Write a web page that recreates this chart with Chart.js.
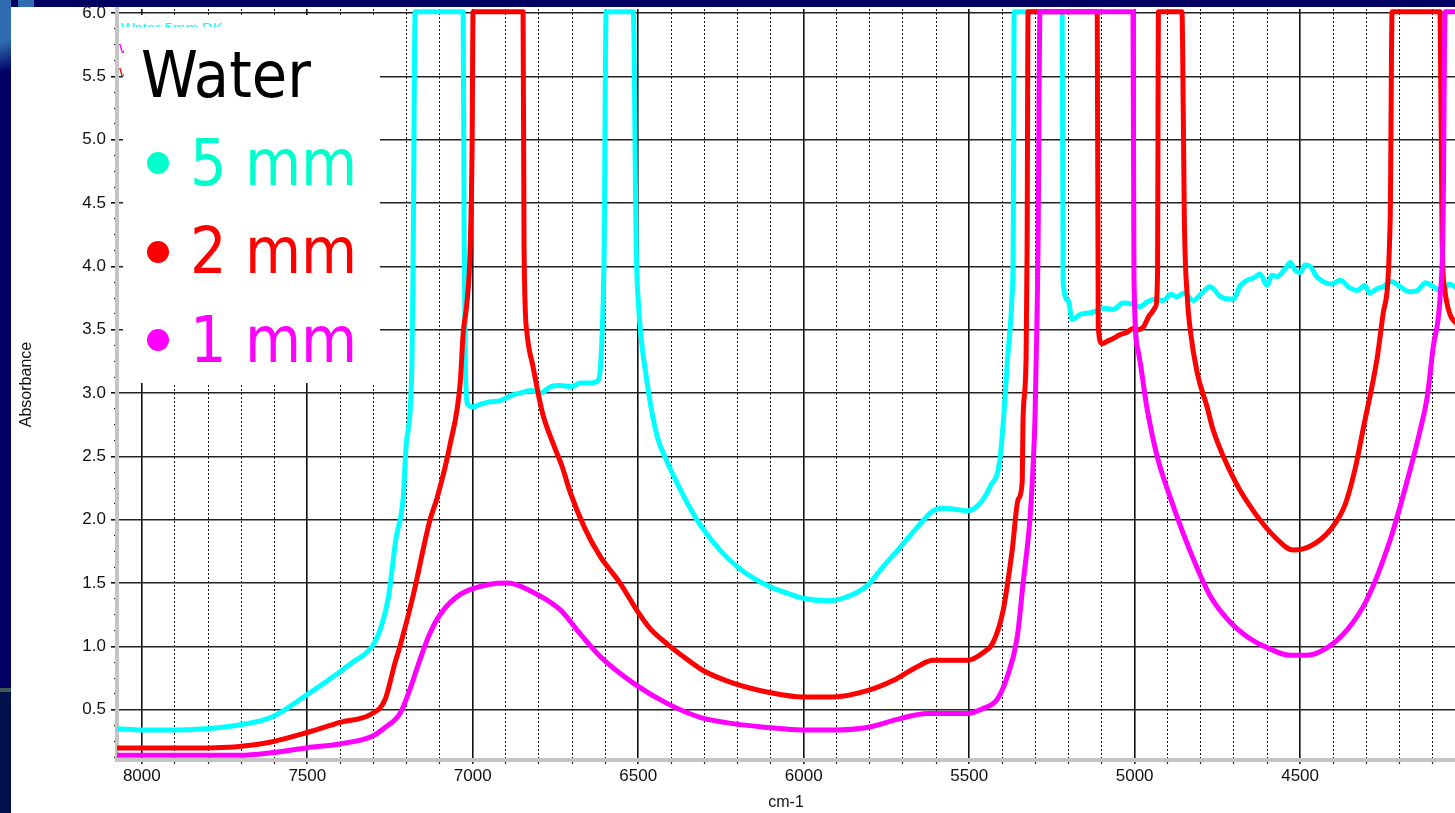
<!DOCTYPE html>
<html>
<head>
<meta charset="utf-8">
<script src="https://cdn.jsdelivr.net/npm/chart.js@4.4.0/dist/chart.umd.min.js"></script>
<style>
    body { margin: 0; width: 1455px; height: 813px; overflow: hidden; background: #000062; position: relative; }
    #leftband { position: absolute; left: 0; top: 0; width: 11px; height: 813px;
        background: linear-gradient(160deg, #2f6cb0 0px, #2f6cb0 40px, #000062 70px, #000062 100%); }
    #greenline { position: absolute; left: 0; top: 688px; width: 11px; height: 4px; background: #3d5c55; }
    #lowband { position: absolute; left: 0; top: 692px; width: 11px; height: 121px; background: #00104a; }
    #topband { position: absolute; left: 18px; top: 0; width: 16px; height: 7px; background: #2f6cb0; }
    #panel { position: absolute; left: 11px; top: 7px; right: 0; bottom: 0; background: #fff; }
    #chart { position: absolute; left: 0; top: 0; }
    #legendBox { position: absolute; left: 123px; top: 15px; width: 257px; height: 368px; background: #fff; }
    .frag { position: absolute; overflow: hidden; font-family: "Liberation Sans", Arial, sans-serif; font-size: 15px; line-height: 15px; white-space: nowrap; }
    .row { position: absolute; font-family: "DejaVu Sans Condensed", "DejaVu Sans", sans-serif; font-size: 64px; line-height: 64px; white-space: nowrap; }
    .dot { position: absolute; width: 22px; height: 22px; border-radius: 50%; }
</style>
</head>
<body>
<div id="leftband"></div>
<div id="greenline"></div>
<div id="lowband"></div>
<div id="topband"></div>
<div id="panel"></div>
<canvas id="chart" width="1455" height="813"></canvas>
<div id="legendBox"></div>
<div class="frag" style="left:121px;top:19px;width:130px;height:8px;color:#00ffff;"><span style="position:relative;top:1px">Water 5mm DK</span></div>
<div class="frag" style="left:119px;top:41px;width:5px;height:12px;color:#ff00ff;">Water 1mm</div>
<div class="frag" style="left:119px;top:65px;width:5px;height:11px;color:#ff0000;">Water 2mm</div>
<div class="row" style="left:141px;top:43px;color:#000;">Water</div>
<div class="dot" style="left:147px;top:152px;background:#00ffcc;"></div>
<div class="row" style="left:190px;top:131px;color:#00ffcc;">5 mm</div>
<div class="dot" style="left:147px;top:241px;background:#ff0000;"></div>
<div class="row" style="left:190px;top:219px;color:#ff0000;">2 mm</div>
<div class="dot" style="left:147px;top:329px;background:#ff00ff;"></div>
<div class="row" style="left:190px;top:308px;color:#ff00ff;">1 mm</div>
<script>
'use strict';

// tick positions
const xTicks = [8000, 7900, 7800, 7700, 7600, 7500, 7400, 7300, 7200, 7100,
    7000, 6900, 6800, 6700, 6600, 6500, 6400, 6300, 6200, 6100,
    6000, 5900, 5800, 5700, 5600, 5500, 5400, 5300, 5200, 5100,
    5000, 4900, 4800, 4700, 4600, 4500, 4400, 4300, 4200, 4100];
const yTicks = [0.5, 1.0, 1.5, 2.0, 2.5, 3.0, 3.5, 4.0, 4.5, 5.0, 5.5, 6.0];
const yMinorTicks = [0.125, 0.25, 0.375, 0.625, 0.75, 0.875, 1.125, 1.25, 1.375, 1.625, 1.75, 1.875,
    2.125, 2.25, 2.375, 2.625, 2.75, 2.875, 3.125, 3.25, 3.375, 3.625, 3.75, 3.875,
    4.125, 4.25, 4.375, 4.625, 4.75, 4.875, 5.125, 5.25, 5.375, 5.625, 5.75, 5.875];

// 5 mm
const waveCyan = [8074, 8000, 7900, 7809, 7706, 7609, 7500, 7401, 7371, 7304, 7280, 7256, 7232, 7210, 7201, 7184, 7180, 7174,
    7029, 7026, 7023, 7017, 6998, 6978, 6950, 6917, 6885, 6857, 6825, 6796, 6765, 6736, 6700, 6676, 6645, 6621, 6615, 6609, 6603, 6597,
    6515, 6506, 6500, 6473, 6443, 6413, 6373, 6343, 6313, 6253, 6201, 6153, 6101, 6050, 6002, 5929, 5881, 5808, 5760, 5709, 5657,
    5609, 5579, 5536, 5506, 5467, 5437, 5406, 5382, 5370, 5367, 5364,
    5219, 5216, 5201, 5189, 5165, 5145, 5125, 5095, 5065, 5035, 5005, 4985, 4962, 4940, 4914, 4890, 4872, 4850, 4823, 4800,
    4772, 4740, 4703, 4680, 4660, 4640, 4621, 4600, 4585, 4570, 4545, 4530, 4515, 4500, 4485, 4470, 4450, 4430, 4405, 4379,
    4350, 4328, 4305, 4289, 4270, 4249, 4225, 4198, 4170, 4146, 4120, 4098, 4070, 4050, 4032];
const absCyan = [0.35, 0.34, 0.34, 0.35, 0.38, 0.44, 0.62, 0.80, 0.86, 1.00, 1.13, 1.37, 1.85, 2.18, 2.60, 3.20, 4.13, 6.01,
    6.01, 4.20, 3.34, 2.92, 2.89, 2.91, 2.93, 2.94, 2.98, 3.00, 3.02, 3.00, 3.05, 3.06, 3.05, 3.08, 3.08, 3.10, 3.18, 3.47, 4.13, 6.01,
    6.01, 4.13, 3.73, 3.08, 2.66, 2.46, 2.24, 2.09, 1.96, 1.76, 1.63, 1.54, 1.47, 1.42, 1.38, 1.36, 1.38, 1.48, 1.63, 1.78, 1.94,
    2.07, 2.09, 2.08, 2.07, 2.13, 2.26, 2.50, 3.34, 3.79, 4.13, 6.01,
    6.01, 3.87, 3.73, 3.58, 3.62, 3.63, 3.64, 3.67, 3.66, 3.71, 3.70, 3.68, 3.72, 3.74, 3.73, 3.78, 3.76, 3.79, 3.73, 3.78,
    3.84, 3.76, 3.74, 3.85, 3.89, 3.91, 3.94, 3.85, 3.93, 3.92, 3.98, 4.03, 3.97, 3.95, 4.01, 4.00, 3.92, 3.88, 3.86, 3.89,
    3.83, 3.81, 3.85, 3.79, 3.82, 3.84, 3.88, 3.84, 3.80, 3.81, 3.87, 3.84, 3.80, 3.86, 3.84];

// 2 mm
const waveRed = [8074, 7900, 7779, 7706, 7609, 7500, 7401, 7304, 7265, 7235, 7220, 7183, 7129, 7108, 7068, 7038, 7029, 7017, 7008, 7002, 6999,
    6848, 6845, 6836, 6818, 6790, 6760, 6730, 6706, 6661, 6615, 6555, 6503, 6464, 6413, 6364, 6304, 6213, 6111, 6002, 5911, 5808,
    5730, 5657, 5609, 5506, 5458, 5428, 5397, 5370, 5352, 5340, 5337, 5328, 5325, 5322,
    5113, 5110, 5098, 5082, 5065, 5045, 5023, 5005, 4990, 4974, 4953, 4937, 4931, 4928,
    4857, 4853, 4850, 4841, 4832, 4811, 4781, 4763, 4696, 4636, 4575, 4521, 4470, 4409, 4364, 4334, 4310, 4267, 4249, 4228, 4222,
    4077, 4071, 4062, 4047, 4032];
const absRed = [0.197, 0.197, 0.20, 0.21, 0.245, 0.32, 0.40, 0.47, 0.58, 0.87, 1.00, 1.37, 2.00, 2.17, 2.60, 3.08, 3.47, 3.73, 4.13, 4.95, 6.01,
    6.01, 4.13, 3.47, 3.21, 2.85, 2.62, 2.42, 2.22, 1.93, 1.71, 1.50, 1.28, 1.14, 1.02, 0.92, 0.81, 0.71, 0.64, 0.60, 0.60, 0.65,
    0.73, 0.84, 0.89, 0.89, 0.95, 1.03, 1.29, 1.76, 2.16, 2.29, 2.81, 3.28, 4.13, 6.01,
    6.01, 3.52, 3.39, 3.41, 3.43, 3.46, 3.48, 3.51, 3.50, 3.52, 3.62, 3.68, 3.92, 6.01,
    6.01, 5.20, 4.40, 3.76, 3.50, 3.16, 2.89, 2.71, 2.30, 2.05, 1.86, 1.76, 1.79, 1.92, 2.12, 2.40, 2.71, 3.28, 3.63, 4.35, 6.01,
    6.01, 4.20, 3.80, 3.62, 3.56];

// 1 mm
const waveMagenta = [8074, 7703, 7609, 7500, 7401, 7304, 7265, 7220, 7190, 7159, 7130, 7099, 7038, 6948, 6893, 6827, 6736, 6676,
    6615, 6515, 6413, 6313, 6213, 6111, 6002, 5911, 5808, 5709, 5627, 5506, 5458, 5416, 5385, 5355, 5337, 5316, 5307, 5301,
    5295, 5292, 5286,
    5005, 5002, 4990, 4962, 4931, 4893, 4832, 4772, 4711, 4651, 4600, 4530, 4479, 4418, 4358, 4298, 4228, 4168, 4137, 4116,
    4098, 4077, 4068, 4062, 4032];
const absMagenta = [0.14, 0.14, 0.16, 0.20, 0.23, 0.29, 0.36, 0.47, 0.66, 0.90, 1.10, 1.25, 1.41, 1.49, 1.50, 1.44, 1.29, 1.10,
    0.92, 0.71, 0.55, 0.44, 0.39, 0.36, 0.34, 0.34, 0.36, 0.43, 0.47, 0.47, 0.51, 0.58, 0.76, 1.07, 1.50, 2.02, 2.42, 2.81,
    3.60, 4.13, 6.01,
    6.01, 3.90, 3.34, 2.87, 2.49, 2.18, 1.75, 1.40, 1.19, 1.06, 0.99, 0.93, 0.93, 0.99, 1.13, 1.37, 1.84, 2.39, 2.71, 2.97,
    3.36, 3.76, 4.35, 6.01, 6.01];

const axisFont = {family: "'Liberation Sans', Arial, sans-serif", size: 17};

function toPoints(xs, ys) {
    return xs.map((x, i) => ({x: x, y: ys[i]}));
}
function isMajor(ctx) {
    return ctx.tick && ctx.tick.value % 500 === 0;
}

new Chart(document.getElementById('chart'), {
    type: 'line',
    data: {
        datasets: [
            {label: '5 mm', data: toPoints(waveCyan, absCyan), borderColor: '#00ffff', order: 3},
            {label: '2 mm', data: toPoints(waveRed, absRed), borderColor: '#ff0000', order: 2},
            {label: '1 mm', data: toPoints(waveMagenta, absMagenta), borderColor: '#ff00ff', order: 1},
        ],
    },
    options: {
        responsive: false,
        animation: false,
        layout: {padding: {top: 9, left: 0, right: 0, bottom: 0}},
        elements: {
            point: {radius: 0},
            line: {borderWidth: 5, cubicInterpolationMode: 'monotone', borderJoinStyle: 'round', borderCapStyle: 'round'},
        },
        plugins: {legend: {display: false}, tooltip: {enabled: false}},
        scales: {
            x: {
                type: 'linear',
                reverse: true,
                min: 4032,
                max: 8075,
                afterBuildTicks: s => { s.ticks = xTicks.map(v => ({value: v})); },
                afterFit: s => { s.height = 53; s.paddingLeft = 0; s.paddingRight = 0; },
                ticks: {
                    autoSkip: false, maxRotation: 0, padding: 2, color: '#111', font: axisFont,
                    callback: v => (v % 500 === 0 ? String(v) : ''),
                },
                grid: {
                    color: '#111',
                    lineWidth: c => (isMajor(c) ? 1.6 : 1),
                    tickLength: 4, tickColor: '#222', tickWidth: c => (isMajor(c) ? 1.6 : 1.2),
                },
                border: {color: '#c4c4c4', width: 4, dash: c => (isMajor(c) || !c.tick ? [] : [2, 2])},
                title: {display: true, text: 'cm-1', color: '#111', font: {family: axisFont.family, size: 16}, padding: {top: 0, bottom: 1}},
            },
            y: {
                type: 'linear',
                position: 'left',
                weight: 1,
                min: 0.103,
                max: 6.032,
                afterBuildTicks: s => { s.ticks = yTicks.map(v => ({value: v})); },
                afterFit: s => { s.width = 117; s.paddingTop = 0; s.paddingBottom = 0; },
                ticks: {padding: 5, color: '#111', font: axisFont, callback: v => v.toFixed(1)},
                grid: {color: '#222', lineWidth: 1.6, tickLength: 6, tickColor: '#111'},
                border: {color: '#c4c4c4', width: 4},
                title: {display: true, text: 'Absorbance', color: '#111', font: {family: axisFont.family, size: 16}, padding: {top: 17, bottom: 0}},
            },
            yMinor: {
                type: 'linear',
                position: 'left',
                weight: 0,
                min: 0.103,
                max: 6.032,
                afterBuildTicks: s => { s.ticks = yMinorTicks.map(v => ({value: v})); },
                afterFit: s => { s.width = 0; s.paddingTop = 0; s.paddingBottom = 0; },
                ticks: {display: false},
                grid: {drawOnChartArea: false, tickLength: 3, tickColor: '#111', tickWidth: 1.2},
                border: {display: false},
            },
        },
    },
});
</script>
</body>
</html>
